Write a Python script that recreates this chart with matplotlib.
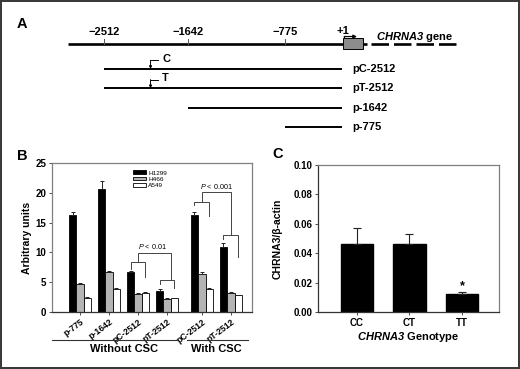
import numpy as np
import matplotlib
matplotlib.use('Agg')
import matplotlib.pyplot as plt
from matplotlib.patches import Rectangle, Patch
import matplotlib.transforms as mtransforms

plt.rcParams['font.family'] = ['Liberation Sans', 'DejaVu Sans']
plt.rcParams['mathtext.fontset'] = 'custom'
plt.rcParams['mathtext.it'] = 'Liberation Sans:italic'
plt.rcParams['mathtext.rm'] = 'Liberation Sans'
plt.rcParams['mathtext.bf'] = 'Liberation Sans:bold'
plt.rcParams['mathtext.bfit'] = 'Liberation Sans:italic:bold'

# ---------------- Panel A data (promoter map, bp relative to TSS) ----------------
site_bp = [-2512, -1642, -775]
site_labels = ['\u22122512', '\u22121642', '\u2212775']
construct_names = ['pC-2512', 'pT-2512', 'p-1642', 'p-775']
construct_start = [-2512, -2512, -1642, -775]
construct_end = [0, 0, 0, 0]
snp_bp = -2030
snp_alleles = ['C', 'T']
tss_label = '+1'
gene_label = r'$\mathbfit{CHRNA3}$ gene'

# ---------------- Panel B data ----------------
b_groups = ['p-775', 'p-1642', 'pC-2512', 'pT-2512', 'pC-2512', 'pT-2512']
b_cells = ['H1299', 'H466', 'A549']
h1299 = [16.3, 20.6, 6.65, 3.45, 16.3, 10.95]
h1299_err = [0.4, 1.3, 0.3, 0.35, 0.45, 0.6]
h466 = [4.75, 6.7, 3.1, 2.2, 6.45, 3.15]
h466_err = [0.15, 0.2, 0.15, 0.1, 0.2, 0.15]
a549 = [2.35, 3.8, 3.15, 2.3, 3.85, 2.8]
a549_err = [0.15, 0.15, 0.15, 0.1, 0.15, 0.1]
b_conditions = ['Without CSC', 'With CSC']
p_labels = ['P < 0.01', 'P < 0.001']
# bracket heights (top, left-leg end, right-leg end) for groups 2,3 and 4,5
brk_01 = [[8.44, 7.2, 5.9], [5.37, 4.7, 4.0]]
brk_001 = [[18.46, 17.95, 16.1], [12.9, 12.25, 9.2]]
p_line = [9.95, 20.08]

# ---------------- Panel C data ----------------
c_genotypes = ['CC', 'CT', 'TT']
c_values = [0.046, 0.046, 0.012]
c_err = [0.011, 0.007, 0.0018]

W, H = 520, 369
fig = plt.figure(figsize=(5.2, 3.69), dpi=100)
fig.patch.set_facecolor('white')
fig.patch.set_edgecolor('#3a3a3a')
fig.patch.set_linewidth(2.6)


def fax(l, t, r, b):
    return fig.add_axes([l / W, 1 - b / H, (r - l) / W, (b - t) / H])


def ftext(x, y, s, **kw):
    fig.text(x / W, 1 - y / H, s, **kw)


# ================= Panel A =================
axA = fax(0, 0, 520, 140)
axA.axis('off')
BP_ANCH = np.array([-4000, -2512, -1642, -775, 0, 1500], dtype=float)
PX_ANCH = np.array([-39.7, 104, 188, 285, 343, 564.2])
fwd = lambda x: np.interp(x, BP_ANCH, PX_ANCH)
inv = lambda p: np.interp(p, PX_ANCH, BP_ANCH)
axA.set_xscale('function', functions=(fwd, inv))
axA.set_xlim(float(inv(0)), float(inv(520)))
axA.set_ylim(3.673, -3.57)
gy = -1.3
axA.plot([-2880, 0], [gy, gy], color='k', lw=1.9, solid_capstyle='butt')
axA.add_patch(Rectangle((0, gy - 0.285), 135, 0.57, fc='#8c8c8c', ec='k', lw=0.7, zorder=3))
axA.plot([135, 160], [gy, gy], color='k', lw=1.9, solid_capstyle='butt')
dl, = axA.plot([190, 800], [gy, gy], color='k', lw=1.9, solid_capstyle='butt')
dl.set_dashes([17.5 / 1.389 / 1.9, 5.0 / 1.389 / 1.9])
axA.text(225, -1.63, gene_label, fontsize=8, fontweight='bold', ha='left', va='center')
# TSS bent arrow
axA.plot([8, 8], [gy - 0.285, -1.68], color='k', lw=0.9)
axA.annotate('', xy=(95, -1.68), xytext=(8, -1.68),
             arrowprops=dict(arrowstyle='-|>', lw=0.9, color='k', mutation_scale=5,
                             shrinkA=0, shrinkB=0))
axA.text(0, -1.96, tss_label, fontsize=8, fontweight='bold', ha='center', va='center')
for b, lab in zip(site_bp, site_labels):
    axA.plot([b, b], [gy, -1.56], color='#555555', lw=0.7)
    axA.text(b, -1.93, lab, fontsize=8, fontweight='bold', ha='center', va='center')
for i, (name, s, e) in enumerate(zip(construct_names, construct_start, construct_end)):
    axA.plot([s, e - 15], [i, i], color='k', lw=1.4, solid_capstyle='butt')
    axA.annotate(name, xy=(e, i), xytext=(7, 0), textcoords='offset points',
                 fontsize=8, fontweight='bold', ha='left', va='center')
for i, al in enumerate(snp_alleles):
    top = i - 0.45
    axA.annotate('', xy=(snp_bp, i), xytext=(snp_bp, top),
                 arrowprops=dict(arrowstyle='-|>', lw=0.7, color='k', mutation_scale=4,
                                 shrinkA=0, shrinkB=0))
    axA.plot([snp_bp, snp_bp + 78], [top, top], color='k', lw=0.7)
    axA.annotate(al, xy=(snp_bp + 78, top), xytext=(3, 1), textcoords='offset points',
                 fontsize=8, fontweight='bold', ha='left', va='center')

ftext(22, 24, 'A', fontsize=10.5, fontweight='bold', ha='center', va='center')
ftext(22, 156, 'B', fontsize=10.5, fontweight='bold', ha='center', va='center')
ftext(278, 154.5, 'C', fontsize=10.5, fontweight='bold', ha='center', va='center')

# ================= Panel B =================
axB = fax(52, 163, 252, 312)
pos = np.array([0, 1, 2, 3, 4.2, 5.2])
w = 0.255
for off, vals, errs, col in [(-w, h1299, h1299_err, 'black'),
                             (0, h466, h466_err, '#b4b4b4'),
                             (w, a549, a549_err, 'white')]:
    axB.bar(pos + off, vals, width=w, color=col, edgecolor='black', lw=0.6, zorder=2)
    axB.errorbar(pos + off, vals, yerr=[np.zeros(len(vals)), errs], fmt='none',
                 ecolor='#222222', elinewidth=0.7, capsize=1.6, capthick=0.7, zorder=3)
axB.set_xlim(-0.966, 5.93)
axB.set_ylim(0, 25)
axB.set_yticks(np.arange(0, 26, 5))
axB.set_xticks(pos)
axB.set_xticklabels(b_groups, rotation=37, ha='right', va='top', rotation_mode='anchor',
                    fontsize=6.2, fontweight='bold')
for lab in axB.get_xticklabels():
    lab.set_transform(lab.get_transform() + mtransforms.ScaledTranslation(10 / 100, 0, fig.dpi_scale_trans))
for lab in axB.get_yticklabels():
    lab.set_fontweight('bold')
    lab.set_fontsize(7)
axB.tick_params(axis='both', direction='out', length=2.5, width=0.6, pad=1.5, colors='#333333',
                labelcolor='black')
axB.set_ylabel('Arbitrary units', fontsize=7.5, fontweight='bold')
axB.yaxis.set_label_coords(-0.1, 0.5)
for sp in ['top', 'right', 'left']:
    axB.spines[sp].set_color('#808080')
axB.spines['bottom'].set_color('#333333')
for sp in axB.spines.values():
    sp.set_linewidth(0.9)

bc = '#444444'


def bracket(ax, xc, top, lend, rend):
    ax.plot([xc - w, xc - w, xc + w, xc + w], [lend, top, top, rend], color=bc, lw=0.7)


bracket(axB, pos[2], *brk_01[0])
bracket(axB, pos[3], *brk_01[1])
x_r = pos[3] + 0.13
axB.plot([pos[2], pos[2], x_r, x_r], [brk_01[0][0], p_line[0], p_line[0], brk_01[1][0]], color=bc, lw=0.7)
bracket(axB, pos[4], *brk_001[0])
bracket(axB, pos[5], *brk_001[1])
axB.plot([pos[4], pos[4], pos[5], pos[5]], [brk_001[0][0], p_line[1], p_line[1], brk_001[1][0]], color=bc, lw=0.7)


def ptxt(s):
    return r'$P$' + s[1:]


axB.text((pos[2] + x_r) / 2 - 0.05, p_line[0] + 0.3, ptxt(p_labels[0]), fontsize=5.2, ha='center', va='bottom')
axB.text((pos[4] + pos[5]) / 2, p_line[1] + 0.3, ptxt(p_labels[1]), fontsize=5.2, ha='center', va='bottom')

handles = [Patch(fc=c, ec='black', lw=0.6) for c in ['black', '#b4b4b4', 'white']]
axB.legend(handles, b_cells, loc='upper left', bbox_to_anchor=(0.405, 0.95), frameon=False,
           fontsize=4.6, handlelength=2.0, handleheight=0.55, handletextpad=0.35,
           labelspacing=0.15, borderpad=0, borderaxespad=0)

# group lines below B
trB = mtransforms.blended_transform_factory(axB.transData, axB.transAxes)
for (x0, x1), lab, xc in [((-0.966, 3.34), b_conditions[0], pos[:4].mean()),
                          ((3.69, 5.79), b_conditions[1], pos[4:].mean())]:
    axB.plot([x0, x1], [-0.185, -0.185], color='#333333', lw=0.8, transform=trB, clip_on=False)
    axB.text(xc, -0.245, lab, transform=trB, fontsize=8, fontweight='bold', ha='center', va='center')

# ================= Panel C =================
axC = fax(318, 165, 499, 312)
cx = np.arange(len(c_genotypes))
axC.bar(cx, c_values, width=0.61, color='black', edgecolor='black', zorder=2)
axC.errorbar(cx, c_values, yerr=[np.zeros(3), c_err], fmt='none', ecolor='#222222',
             elinewidth=0.8, capsize=3, capthick=0.8, zorder=3)
axC.annotate('*', xy=(cx[2], c_values[2] + c_err[2]), xytext=(0, 0), textcoords='offset points',
             ha='center', va='bottom', fontsize=9, fontweight='bold')
axC.set_xlim(-0.743, 2.705)
axC.set_ylim(0, 0.10)
axC.set_yticks(np.arange(0, 0.101, 0.02))
axC.set_yticklabels(['%.2f' % v for v in np.arange(0, 0.101, 0.02)])
axC.set_xticks(cx)
axC.set_xticklabels(c_genotypes)
for lab in axC.get_xticklabels() + axC.get_yticklabels():
    lab.set_fontweight('bold')
    lab.set_fontsize(7)
axC.tick_params(axis='both', direction='out', length=2.5, width=0.6, pad=1.5, colors='#333333',
                labelcolor='black')
axC.set_ylabel('CHRNA3/\u03b2-actin', fontsize=7.5, fontweight='bold')
axC.yaxis.set_label_coords(-0.193, 0.5)
axC.set_xlabel(r'$\mathbfit{CHRNA3}$ Genotype', fontsize=8, fontweight='bold', labelpad=2)
for sp in ['top', 'right']:
    axC.spines[sp].set_color('#808080')
for sp in ['left', 'bottom']:
    axC.spines[sp].set_color('#333333')
for sp in axC.spines.values():
    sp.set_linewidth(0.9)

fig.savefig('out.png', dpi=100)
